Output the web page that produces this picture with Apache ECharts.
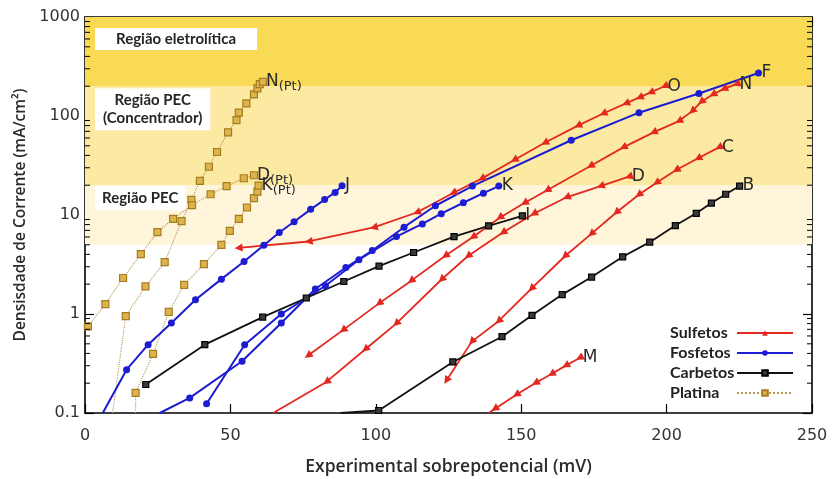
<!DOCTYPE html>
<html>
<head>
<meta charset="utf-8">
<script src="https://cdn.jsdelivr.net/npm/echarts@6/dist/echarts.min.js"></script>
<style>
html,body{margin:0;padding:0;background:#fff}
#chart{width:832px;height:479px}
</style>
</head>
<body>
<div id="chart"></div>
<script>
// Overpotential (mV) against current density (mA/cm²), one pair of arrays per curve.

// Sulfetos
const oX = [52.8, 76.9, 99.3, 114.1, 126.6, 136.4, 147.6, 158.1, 169.5, 178.2, 186.0, 190.7, 194.5, 199.3];
const oY = [4.66, 5.4, 7.5, 10.6, 16.7, 23.3, 35.9, 53.6, 80, 106, 134, 154, 173, 200];
const nX = [76.7, 88.7, 101.1, 112.1, 123.9, 133.4, 142.6, 151.1, 158.9, 173.8, 185.1, 195.5, 204.2, 208.8, 211.9, 215.9, 219.7, 224.0];
const nY = [0.38, 0.687, 1.28, 2.16, 3.87, 6.0, 9.4, 13.2, 17.8, 31.3, 48.2, 68.4, 88.9, 112, 139, 165, 188, 210];
const dX = [64.7, 83.0, 96.4, 107.0, 122.6, 131.7, 143.7, 154.3, 165.6, 177.3, 187.0];
const dY = [0.1, 0.206, 0.44, 0.80, 2.23, 3.85, 6.65, 10.3, 15.1, 19.6, 24.4];
const cX = [124.3, 133.0, 142.2, 153.5, 165.0, 174.1, 182.7, 190.4, 196.5, 203.3, 210.8, 218.0];
const cY = [0.213, 0.526, 0.846, 1.80, 3.83, 6.45, 10.6, 16.0, 21.2, 28.5, 37.4, 48.2];
const mX = [138.8, 140.9, 148.3, 154.9, 160.4, 165.3, 170.1];
const mY = [0.1, 0.110, 0.153, 0.201, 0.248, 0.301, 0.36];

// Fosfetos
const fX = [25.7, 36.0, 54.0, 67.5, 79.2, 89.7, 98.8, 109.7, 120.5, 133.2, 167.2, 190.5, 211.1, 231.6];
const fY = [0.1, 0.142, 0.333, 0.81, 1.79, 2.95, 4.38, 7.53, 12.4, 19.6, 56.9, 108, 169, 272];
const jX = [6.1, 14.3, 21.7, 29.7, 38.0, 46.9, 54.7, 61.5, 66.8, 71.9, 77.6, 82.4, 86.0, 88.4];
const jY = [0.1, 0.274, 0.49, 0.81, 1.39, 2.25, 3.39, 4.94, 6.65, 8.56, 11.4, 14.3, 16.9, 19.7];
const kX = [41.8, 54.9, 67.5, 82.7, 94.2, 107.1, 116.0, 122.5, 130.1, 137.0, 142.3];
const kY = [0.124, 0.49, 1.0, 1.93, 3.53, 6.05, 8.13, 10.3, 13.3, 16.6, 19.6];

// Carbetos
const iX = [20.9, 41.2, 61.1, 76.1, 89.0, 101.1, 113.0, 126.9, 138.8, 150.4];
const iY = [0.194, 0.49, 0.93, 1.45, 2.13, 3.05, 4.18, 6.05, 7.76, 9.8];
const bX = [88.0, 101.0, 126.5, 143.4, 153.7, 164.1, 174.2, 184.9, 194.2, 203.0, 210.2, 215.4, 220.3, 225.1];
const bY = [0.1, 0.106, 0.328, 0.59, 0.97, 1.57, 2.36, 3.78, 5.32, 7.82, 10.4, 13.2, 16.2, 19.6];

// Platina
const nPtX = [9.5, 14.0, 20.8, 27.4, 33.2, 36.6, 39.5, 42.6, 45.4, 49.2, 52.1, 52.9, 55.5, 58.1, 59.3, 60.1, 61.2];
const nPtY = [0.1, 0.95, 1.90, 3.34, 8.68, 14.2, 22.1, 30.7, 43.3, 68.4, 91, 108, 134, 165, 190, 210, 221];
const dPtX = [1.0, 7.0, 13.1, 19.2, 24.9, 30.3, 36.8, 43.2, 48.7, 54.6, 58.1];
const dPtY = [0.75, 1.26, 2.31, 4.03, 6.71, 9.14, 12.6, 16.2, 19.6, 23.5, 25.2];
const kPtX = [17.4, 17.4, 23.4, 28.8, 34.1, 40.9, 46.9, 49.8, 52.9, 55.7, 58.1, 59.3, 59.7];
const kPtY = [0.1, 0.16, 0.395, 1.05, 1.97, 3.19, 5.0, 6.92, 9.14, 11.9, 14.8, 17.2, 19.8];

// Shaded operating regions (lower, upper bound in mA/cm²) and their names
const bandLow = [5, 20, 200];
const bandHigh = [20, 200, 1000];
const bandNames = [['Região PEC'], ['Região PEC', '(Concentrador)'], ['Região eletrolítica']];

// Axis ticks
const xTicks = [0, 50, 100, 150, 200, 250];
const yDecades = [0.1, 1, 10, 100, 1000];

const groupNames = ['Sulfetos', 'Fosfetos', 'Carbetos', 'Platina'];

const bandColors = ['#FEF5DA', '#FCEAA3', '#F9DA56'];
const bandPadding = [[3, 7, 3, 7], [3, 8, 3, 8], [2, 21, 2, 21]];
const bandOffsetY = [1, 2, 11];

const styles = {
  Sulfetos: { color: '#E3281F', symbol: 'triangle', symbolSize: 8, lineWidth: 1.8, type: 'solid', itemStyle: { color: '#E3281F' } },
  Fosfetos: { color: '#1C1CD2', symbol: 'circle', symbolSize: 7, lineWidth: 2, type: 'solid', itemStyle: { color: '#1C1CD2' } },
  Carbetos: { color: '#111111', symbol: 'rect', symbolSize: 6, lineWidth: 1.8, type: 'solid', itemStyle: { color: '#3a3a3a', borderColor: '#000', borderWidth: 1.2 } },
  Platina: { color: '#B99755', symbol: 'rect', symbolSize: 7, lineWidth: 1.1, type: 'dotted', itemStyle: { color: '#DDB44C', borderColor: '#A57C1E', borderWidth: 1.2 } }
};

const curves = [
  { group: 'Sulfetos', xs: oX, ys: oY, label: 'O' },
  { group: 'Sulfetos', xs: nX, ys: nY, label: 'N' },
  { group: 'Sulfetos', xs: dX, ys: dY, label: 'D' },
  { group: 'Sulfetos', xs: cX, ys: cY, label: 'C' },
  { group: 'Sulfetos', xs: mX, ys: mY, label: 'M' },
  { group: 'Fosfetos', xs: fX, ys: fY, label: 'F' },
  { group: 'Fosfetos', xs: jX, ys: jY, label: 'J' },
  { group: 'Fosfetos', xs: kX, ys: kY, label: 'K' },
  { group: 'Carbetos', xs: iX, ys: iY, label: 'I' },
  { group: 'Carbetos', xs: bX, ys: bY, label: 'B' },
  { group: 'Platina', xs: nPtX, ys: nPtY, label: 'N{pt|(Pt)}' },
  { group: 'Platina', xs: dPtX, ys: dPtY, label: 'D{pt|(Pt)}' },
  { group: 'Platina', xs: kPtX, ys: kPtY, label: 'K{pt|(Pt)}' }
];

const chart = echarts.init(document.getElementById('chart'), null, { renderer: 'canvas' });

// points lying on the lower frame only continue the line, without a marker
function buildData(xs, ys, rot) {
  return xs.map((x, i) => {
    const item = { value: [x, ys[i]] };
    if (ys[i] <= yDecades[0]) item.symbol = 'none';
    if (rot) item.symbolRotate = rot[i];
    return item;
  });
}

function curveSeries(c, rot) {
  const s = styles[c.group];
  return {
    type: 'line',
    name: c.group,
    xAxisIndex: 0,
    yAxisIndex: 0,
    data: buildData(c.xs, c.ys, rot),
    symbol: s.symbol,
    symbolSize: s.symbolSize,
    showAllSymbol: true,
    color: s.color,
    itemStyle: s.itemStyle,
    lineStyle: { color: s.color, width: s.lineWidth, type: s.type },
    z: c.group === 'Platina' ? 3 : 4,
    animation: false,
    endLabel: {
      show: true,
      formatter: c.label,
      distance: 3,
      fontFamily: 'DejaVu Sans',
      fontSize: 17,
      color: '#2b2b2b',
      rich: { pt: { fontFamily: 'DejaVu Sans', fontSize: 13, color: '#2b2b2b', padding: [10, 0, 0, 0] } }
    },
    emphasis: { disabled: true }
  };
}

// log minor ticks (2..9 per decade) on the left and right frame
const minorVals = [];
for (let d = 0; d < yDecades.length - 1; d++) {
  for (let m = 2; m <= 9; m++) minorVals.push([xTicks[0], +(yDecades[d] * m).toPrecision(3)]);
}

const minorTickSeries = {
  type: 'custom',
  name: 'minor',
  xAxisIndex: 0,
  yAxisIndex: 0,
  silent: true,
  z: 10,
  animation: false,
  data: minorVals,
  encode: { x: 0, y: 1 },
  renderItem: function (params, api) {
    const l = api.coord([xTicks[0], api.value(1)]);
    const r = api.coord([xTicks[xTicks.length - 1], api.value(1)]);
    return {
      type: 'group',
      children: [
        { type: 'line', shape: { x1: l[0], y1: l[1], x2: l[0] + 5, y2: l[1] }, style: { stroke: '#000', lineWidth: 1 } },
        { type: 'line', shape: { x1: r[0], y1: r[1], x2: r[0] - 5, y2: r[1] }, style: { stroke: '#000', lineWidth: 1 } }
      ]
    };
  }
};

const bandSeries = {
  type: 'line',
  name: 'bands',
  data: [],
  silent: true,
  z: 1,
  markArea: {
    silent: true,
    data: bandLow.map((lo, i) => [
      {
        yAxis: lo,
        itemStyle: { color: bandColors[i] },
        label: {
          show: true,
          formatter: bandNames[i].map(t => '{c|' + t + '}').join('\n'),
          position: 'insideTopLeft',
          distance: 0,
          offset: [10, bandOffsetY[i]],
          backgroundColor: '#ffffff',
          padding: bandPadding[i],
          rich: {
            c: { fontFamily: 'Lato', fontWeight: 'bold', fontSize: 15, lineHeight: 18, color: '#262626', align: 'center' }
          }
        }
      },
      { yAxis: bandHigh[i] }
    ])
  }
};

const axisCommon = {
  axisLine: { show: true, onZero: false, lineStyle: { color: '#000', width: 1.6 } },
  splitLine: { show: false }
};

function buildOption(rotations) {
  return {
    animation: false,
    backgroundColor: '#ffffff',
    grid: { left: 85, right: 20, top: 17, bottom: 66, outerBoundsMode: 'none' },
    legend: {
      data: groupNames,
      orient: 'vertical',
      left: 670,
      top: 325,
      align: 'right',
      itemWidth: 56,
      itemHeight: 7,
      itemGap: 4,
      padding: 0,
      selectedMode: false,
      formatter: name => '{t|' + name + '}',
      textStyle: {
        rich: { t: { fontFamily: 'Lato', fontWeight: 'bold', fontSize: 16, color: '#222', width: 62, align: 'left', lineHeight: 18 } }
      }
    },
    xAxis: [
      Object.assign({
        type: 'value', min: xTicks[0], max: xTicks[xTicks.length - 1], interval: 50, position: 'bottom',
        name: 'Experimental sobrepotencial (mV)', nameLocation: 'middle', nameGap: 45,
        nameTextStyle: { fontFamily: 'Open Sans', fontWeight: 600, fontSize: 17.5, color: '#2b2b2b' },
        axisTick: { show: true, inside: true, length: 9, lineStyle: { color: '#000', width: 1.2 } },
        axisLabel: { fontFamily: 'DejaVu Sans', fontSize: 16, color: '#333', margin: 15 }
      }, axisCommon),
      Object.assign({
        type: 'value', min: xTicks[0], max: xTicks[xTicks.length - 1], interval: 50, position: 'top',
        axisTick: { show: true, inside: true, length: 9, lineStyle: { color: '#000', width: 1.2 } },
        axisLabel: { show: false }
      }, axisCommon)
    ],
    yAxis: [
      Object.assign({
        type: 'log', logBase: 10, min: yDecades[0], max: yDecades[yDecades.length - 1], position: 'left',
        name: 'Densisdade de Corrente (mA/cm²)', nameLocation: 'middle', nameGap: 54, nameRotate: 90,
        nameTextStyle: { fontFamily: 'Open Sans', fontWeight: 600, fontSize: 15.5, color: '#2b2b2b' },
        axisTick: { show: true, inside: true, length: 9, lineStyle: { color: '#000', width: 1.2 } },
        axisLabel: {
          fontFamily: 'DejaVu Sans', fontSize: 16, color: '#333', margin: 5,
          formatter: v => String(v)
        }
      }, axisCommon),
      Object.assign({
        type: 'log', logBase: 10, min: yDecades[0], max: yDecades[yDecades.length - 1], position: 'right',
        axisTick: { show: true, inside: true, length: 9, lineStyle: { color: '#000', width: 1.2 } },
        axisLabel: { show: false }
      }, axisCommon)
    ],
    series: [bandSeries, minorTickSeries].concat(curves.map((c, i) => curveSeries(c, rotations ? rotations[i] : null)))
  };
}

chart.setOption(buildOption(null));

// turn each triangle so its tip points back along its own curve
const rotations = curves.map((c) => {
  if (c.group !== 'Sulfetos') return null;
  const px = c.xs.map((x, i) => chart.convertToPixel({ xAxisIndex: 0, yAxisIndex: 0 }, [x, c.ys[i]]));
  return px.map((p, i) => {
    const a = px[Math.max(0, i - 1)];
    const b = px[Math.min(px.length - 1, i + 1)];
    const ang = Math.atan2(-(b[1] - a[1]), b[0] - a[0]) * 180 / Math.PI;
    return ang + 90;
  });
});
chart.setOption(buildOption(rotations), true);
</script>
</body>
</html>
